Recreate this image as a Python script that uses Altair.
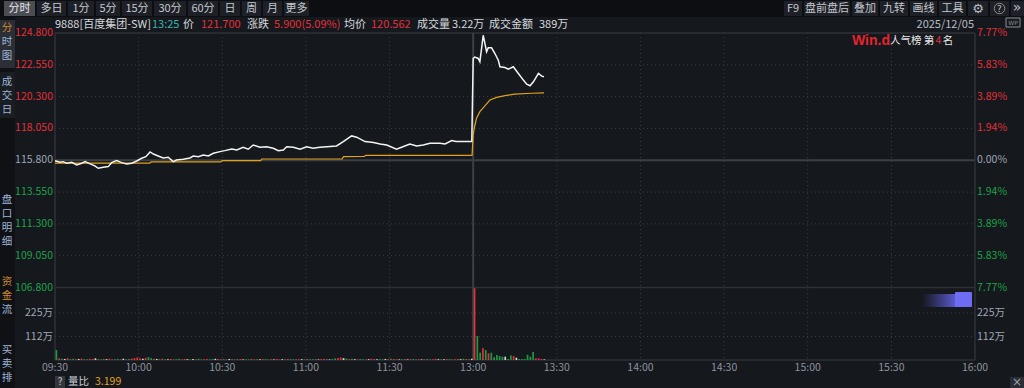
import altair as alt
import pandas as pd
import numpy as np

# ---------------- data ----------------
price_ticks = [124.8, 122.55, 120.3, 118.05, 115.8, 113.55, 111.3, 109.05, 106.8]
pct_labels = ["7.77%", "5.83%", "3.89%", "1.94%", "0.00%", "1.94%", "3.89%", "5.83%", "7.77%"]
prev_close = 115.8
vol_ticks = [225, 112.5]
vol_tick_labels = ["225万", "112万"]
time_labels = ["09:30", "10:00", "10:30", "11:00", "11:30", "13:00", "13:30",
               "14:00", "14:30", "15:00", "15:30", "16:00"]
time_pos = [0, 30, 60, 90, 120, 150, 180, 210, 240, 270, 300, 330]

price_min = [0, 1.8, 2.9, 4.2, 6, 7.8, 9.6, 10.8, 12.6, 14.3,
             15.5, 17.3, 19.1, 20.3, 22.1, 23.9, 25.7, 27.5, 29.3, 31.1,
             32.6, 34.1, 35.3, 37, 38.8, 40.6, 42.4, 43.6, 46, 48.4,
             49.6, 51.4, 53.2, 55, 56.8, 59.2, 60.9, 63.4, 65.2, 67.5,
             69.3, 71.1, 73.5, 75.9, 78.3, 80.1, 81.9, 83.1, 85.5, 87.9,
             90.3, 92.6, 95, 97.5, 101, 103.4, 106.4, 108.2, 111.2, 114.2,
             116.6, 119, 122.5, 124.3, 127.3, 129.7, 132.1, 134.5, 138.1, 139.9,
             142.3, 143.8, 149.5, 150, 150.6, 151.8, 152.4, 153, 153.6, 154.2,
             154.8, 155.4, 156.6, 157.8, 159, 159.6, 161.4, 162.6, 164.4, 166.2,
             168, 169.2, 170.4, 171.6, 173.4, 174.6, 175.4]
price_val = [115.77, 115.66, 115.70, 115.59, 115.66, 115.47, 115.59, 115.70, 115.54, 115.40,
             115.23, 115.30, 115.35, 115.63, 115.77, 115.63, 115.54, 115.59, 115.75, 115.94,
             116.05, 116.39, 116.24, 116.10, 115.96, 116.01, 115.70, 115.82, 115.87, 115.96,
             116.10, 116.05, 116.17, 116.10, 116.29, 116.41, 116.48, 116.60, 116.53, 116.72,
             116.58, 116.88, 116.72, 116.76, 116.65, 116.48, 116.53, 116.76, 116.72, 116.58,
             116.76, 116.65, 116.72, 116.76, 116.81, 117.12, 117.52, 117.43, 117.12, 117.05,
             116.95, 116.88, 116.58, 116.72, 116.95, 116.81, 116.88, 117.0, 117.0, 116.95,
             117.19, 117.12, 117.12, 123.0, 123.1, 123.0, 122.77, 123.7, 124.64, 124.06,
             123.47, 123.75, 123.75, 123.35, 122.88, 122.41, 122.36, 122.24, 122.41, 121.94,
             121.47, 121.18, 121.07, 121.35, 121.94, 121.75, 121.70]

avg_min = [0, 34, 34.5, 59.5, 60, 73.8, 74.2, 103, 103.5, 111, 111.5, 149.6,
           150, 150.5, 151.2, 152.4, 154.2, 156, 158.4, 161.4, 164.9, 170.9, 175.4]
avg_val = [115.60, 115.60, 115.68, 115.68, 115.77, 115.77, 115.89, 115.90, 116.06, 116.08, 116.15, 116.15,
           117.6, 118.17, 118.77, 119.24, 119.64, 120.06, 120.25, 120.37, 120.47, 120.54, 120.56]

vol_am = [48, 8, 6, 5, 9, 4, 6, 3, 5, 7,
          4, 3, 6, 5, 8, 4, 3, 5, 4, 6,
          3, 4, 5, 3, 6, 4, 5, 7, 9, 12,
          8, 6, 10, 14, 9, 6, 5, 4, 6, 3,
          4, 5, 3, 4, 6, 3, 5, 4, 3, 5,
          4, 6, 3, 4, 5, 3, 4, 6, 5, 3,
          4, 3, 5, 4, 3, 4, 5, 3, 4, 3,
          5, 3, 4, 3, 5, 4, 3, 4, 3, 5,
          3, 4, 3, 5, 4, 3, 4, 3, 4, 3,
          5, 4, 3, 4, 3, 5, 6, 4, 3, 4,
          8, 10, 12, 9, 7, 5, 6, 4, 3, 5,
          4, 3, 4, 6, 5, 3, 4, 3, 5, 4,
          6, 5, 4, 3, 4, 5, 3, 4, 5, 3,
          4, 3, 4, 5, 3, 4, 6, 4, 3, 4,
          5, 4, 3, 4, 5, 4, 6, 5, 4, 6]
dir_am = ("dudfuddufudduufdudfuuddufdduuu"
          "ufuddufdudfuudduufdfudduuddfuu"
          "dufdudufdduudfuddufuufdudduufd"
          "uddufuudfdduufdudfuddufuufddfu"
          "duufdufuddufudduufdfudduufdudf")
vol_pm = [344, 115, 35, 56, 48, 32, 35, 13, 24, 19, 16, 16, 5,
          22, 19, 11, 5, 5, 5, 25, 16, 38, 8, 8, 5, 3]
dir_pm = "uddududddddfddufdddddduuuf"

toolbar_left = ["分时", "多日", "1分", "5分", "15分", "30分", "60分", "日", "周", "月", "更多"]
toolbar_right = ["F9", "盘前盘后", "叠加", "九转", "画线", "工具"]

# ---------------- style ----------------
F = "Noto Sans CJK SC"
BG = "#15181d"
RED = "#e3303a"
GREEN = "#1ea248"
GRAYLBL = "#9ea6b4"
GRID = "#3a3e46"
FRAME = "#2e3138"

XS = alt.Scale(domain=[0, 330], range=[55, 975])
PS = alt.Scale(domain=[106.8, 124.8], range=[287.5, 33])
VS = alt.Scale(domain=[0, 350], range=[360, 287])

one = pd.DataFrame({"k": [0]})


def txt(s, x, y, color="#cdd1d8", size=11, align="left", weight="normal", font=F):
    return alt.Chart(pd.DataFrame({"t": [s]})).mark_text(
        align=align, baseline="middle", fontSize=size, font=font, color=color,
        fontWeight=weight
    ).encode(x=alt.value(x), y=alt.value(y), text="t:N")


def box(x1, x2, y1, y2, fill, stroke=None):
    kw = {"fill": fill}
    if stroke:
        kw["stroke"] = stroke
    return alt.Chart(one).mark_rect(**kw).encode(
        x=alt.value(x1), x2=alt.value(x2), y=alt.value(y1), y2=alt.value(y2))


layers = []

# toolbar
layers.append(box(0, 1024, 0, 17, "#0c0e12"))
left_bounds = [(4, 35), (37, 66), (68, 94), (96, 120), (122, 152), (154, 186),
               (188, 218), (220, 240), (242, 261), (263, 282), (284, 309)]
for i, (lab, (a, b)) in enumerate(zip(toolbar_left, left_bounds)):
    layers.append(box(a, b, 1, 16, "#4a4d54" if i == 0 else "#1d2026"))
    layers.append(txt(lab, (a + b) / 2, 8.5, "#e6e6e6" if i == 0 else "#c4c8cf", 11, "center"))
right_bounds = [(784, 802), (804, 850), (852, 878), (880, 908), (910, 937), (939, 966)]
for lab, (a, b) in zip(toolbar_right, right_bounds):
    layers.append(box(a, b, 1, 16, "#1d2026"))
    layers.append(txt(lab, (a + b) / 2, 8.5, "#c4c8cf", 11, "center"))
for a, b in [(968, 988), (990, 1009), (1011, 1024)]:
    layers.append(box(a, b, 1, 16, "#1d2026"))
layers.append(txt("⚙", 978, 8.5, "#b8bcc4", 13, "center", font="DejaVu Sans"))
layers.append(alt.Chart(one).mark_point(shape="circle", size=110, stroke="#b8bcc4", strokeWidth=1, filled=False)
              .encode(x=alt.value(999.5), y=alt.value(8.5)))
layers.append(txt("?", 999.5, 9, "#b8bcc4", 9, "center", font="DejaVu Sans"))
layers.append(txt("»", 1017, 7.5, "#b8bcc4", 14, "center", font="DejaVu Sans"))

# left sidebar
layers.append(box(0, 15, 17, 388, "#0f1115"))
layers.append(box(0, 15, 20, 68, "#2b2e35"))
layers.append(box(0, 15, 72, 118, "#1a1d22"))
for ch, yy, col in [("分", 28, "#d18b2c"), ("时", 42, "#9fb4d6"), ("图", 56, "#9fb4d6"),
                    ("成", 82, "#9fb4d6"), ("交", 96, "#9fb4d6"), ("日", 110, "#9fb4d6"),
                    ("盘", 200, "#9fb4d6"), ("口", 214, "#9fb4d6"), ("明", 228, "#9fb4d6"), ("细", 242, "#9fb4d6"),
                    ("资", 282, "#d18b2c"), ("金", 296, "#d18b2c"), ("流", 310, "#9fb4d6"),
                    ("买", 350, "#9fb4d6"), ("卖", 364, "#9fb4d6"), ("排", 378, "#9fb4d6")]:
    layers.append(txt(ch, 7, yy, col, 10.5, "center"))

# info line
info = [("9888[百度集团-SW]", 55, "#d6d9de"), ("13:25", 152, "#36b4b0"), ("价", 183, "#d6d9de"),
        ("121.700", 201, RED), ("涨跌", 247, "#d6d9de"), ("5.900(5.09%)", 274, RED),
        ("均价", 344, "#d6d9de"), ("120.562", 371, RED), ("成交量", 417, "#d6d9de"),
        ("3.22万", 452, "#d6d9de"), ("成交金额", 489, "#d6d9de"), ("389万", 539, "#d6d9de")]
for s, x, c in info:
    layers.append(txt(s, x, 24.5, c, 11))
layers.append(txt("2025/12/05", 974, 24.5, "#b8bcc4", 11, "right"))
layers.append(box(1006, 1020, 18, 27, "#15181d", "#8a8f98"))
layers.append(txt("WP", 1013, 22.5, "#8a8f98", 6, "center", font="DejaVu Sans"))

# frame and grid
dotted_prices = [p for p in price_ticks if p not in (124.8, 115.8, 106.8)]
layers.append(alt.Chart(pd.DataFrame({"p": dotted_prices})).mark_rule(
    color=GRID, strokeDash=[1, 3], strokeWidth=1).encode(
    y=alt.Y("p:Q", scale=PS, axis=None), x=alt.value(55), x2=alt.value(975)))
layers.append(alt.Chart(pd.DataFrame({"v": vol_ticks})).mark_rule(
    color=GRID, strokeDash=[1, 3], strokeWidth=1).encode(
    y=alt.Y("v:Q", scale=VS, axis=None), x=alt.value(55), x2=alt.value(975)))
dotted_times = [t for t in time_pos if t not in (0, 150, 330)]
layers.append(alt.Chart(pd.DataFrame({"t": dotted_times})).mark_rule(
    color=GRID, strokeDash=[1, 3], strokeWidth=1).encode(
    x=alt.X("t:Q", scale=XS, axis=None), y=alt.value(33), y2=alt.value(360)))
layers.append(alt.Chart(pd.DataFrame({"p": [124.8, 106.8]})).mark_rule(color=FRAME, strokeWidth=1.5).encode(
    y=alt.Y("p:Q", scale=PS, axis=None), x=alt.value(55), x2=alt.value(975)))
layers.append(alt.Chart(pd.DataFrame({"p": [prev_close]})).mark_rule(color="#3c3f46", strokeWidth=2).encode(
    y=alt.Y("p:Q", scale=PS, axis=None), x=alt.value(55), x2=alt.value(975)))
layers.append(alt.Chart(pd.DataFrame({"v": [0]})).mark_rule(color=FRAME, strokeWidth=1.5).encode(
    y=alt.Y("v:Q", scale=VS, axis=None), x=alt.value(55), x2=alt.value(975)))
layers.append(alt.Chart(pd.DataFrame({"t": [0, 330]})).mark_rule(color=FRAME, strokeWidth=1.5).encode(
    x=alt.X("t:Q", scale=XS, axis=None), y=alt.value(33), y2=alt.value(360)))
layers.append(alt.Chart(pd.DataFrame({"t": [150]})).mark_rule(color="#3c3f46", strokeWidth=2).encode(
    x=alt.X("t:Q", scale=XS, axis=None), y=alt.value(33), y2=alt.value(360)))

# axis labels
color_expr = (f"datum.p > {prev_close} ? '{RED}' : (datum.p < {prev_close} ? '{GREEN}' : '{GRAYLBL}')")
pdf = pd.DataFrame({"p": price_ticks, "pct": pct_labels})
layers.append(alt.Chart(pdf).transform_calculate(c=color_expr).mark_text(
    align="right", baseline="middle", font=F, fontSize=10.5).encode(
    x=alt.value(53), y=alt.Y("p:Q", scale=PS, axis=None),
    text=alt.Text("p:Q", format=".3f"), color=alt.Color("c:N", scale=None)))
layers.append(alt.Chart(pdf).transform_calculate(c=color_expr).mark_text(
    align="left", baseline="middle", font=F, fontSize=10.5).encode(
    x=alt.value(977), y=alt.Y("p:Q", scale=PS, axis=None),
    text="pct:N", color=alt.Color("c:N", scale=None)))
vdf = pd.DataFrame({"v": vol_ticks, "lab": vol_tick_labels})
layers.append(alt.Chart(vdf).mark_text(align="right", baseline="middle", font=F, fontSize=10.5, color=GRAYLBL)
              .encode(x=alt.value(53), y=alt.Y("v:Q", scale=VS, axis=None), text="lab:N"))
layers.append(alt.Chart(vdf).mark_text(align="left", baseline="middle", font=F, fontSize=10.5, color=GRAYLBL)
              .encode(x=alt.value(977), y=alt.Y("v:Q", scale=VS, axis=None), text="lab:N"))
tdf = pd.DataFrame({"t": time_pos, "lab": time_labels})
layers.append(alt.Chart(tdf).mark_text(align="center", baseline="middle", font=F, fontSize=10.5, color="#8d939e")
              .encode(x=alt.X("t:Q", scale=XS, axis=None), y=alt.value(367.5), text="lab:N"))

# volume bars
vol = vol_am + vol_pm
dirs = list(dir_am) + list(dir_pm)
vdf2 = pd.DataFrame({"m": np.arange(len(vol)) + 0.5, "v": vol, "d": dirs[:len(vol)], "z": 0})
layers.append(alt.Chart(vdf2).mark_rule(strokeWidth=1.7).encode(
    x=alt.X("m:Q", scale=XS, axis=None),
    y=alt.Y("v:Q", scale=VS, axis=None), y2="z:Q",
    color=alt.Color("d:N", scale=alt.Scale(domain=["u", "d", "f"], range=[RED, "#1d9a41", "#d6d6d6"]), legend=None)))

# avg line & price line
layers.append(alt.Chart(pd.DataFrame({"m": avg_min, "p": avg_val})).mark_line(
    color="#e0a21c", strokeWidth=1.2).encode(
    x=alt.X("m:Q", scale=XS, axis=None), y=alt.Y("p:Q", scale=PS, axis=None)))
layers.append(alt.Chart(pd.DataFrame({"m": price_min, "p": price_val})).mark_line(
    color="#f4f4f4", strokeWidth=1.5).encode(
    x=alt.X("m:Q", scale=XS, axis=None), y=alt.Y("p:Q", scale=PS, axis=None)))

# Wind popularity badge
layers.append(txt("Win.d", 871, 41, "#e8242c", 14, "center", "bold", font="Liberation Sans"))
layers.append(txt("人气榜", 890, 40.5, "#e8e8e8", 10.5))
layers.append(txt("第", 929, 40.5, "#e8e8e8", 10.5, "center"))
layers.append(txt("4", 938.5, 40.5, RED, 10.5, "center"))
layers.append(txt("名", 948, 40.5, "#e8e8e8", 10.5, "center"))

# purple widget
grad = alt.Gradient(gradient="linear",
                    stops=[alt.GradientStop(color="rgba(90,90,210,0)", offset=0),
                           alt.GradientStop(color="rgba(100,100,230,0.9)", offset=1)],
                    x1=0, x2=1, y1=0, y2=0)
layers.append(alt.Chart(one).mark_rect(color=grad).encode(
    x=alt.value(922), x2=alt.value(956), y=alt.value(294), y2=alt.value(307)))
layers.append(alt.Chart(one).mark_rect(fill="#6d6cf2", cornerRadius=1).encode(
    x=alt.value(955), x2=alt.value(972), y=alt.value(292), y2=alt.value(307)))

# bottom strip
layers.append(box(55, 65, 376, 388, "#33363d"))
layers.append(txt("?", 60, 382, "#c8ccd2", 10, "center"))
layers.append(txt("量比", 68, 381.5, "#c8ccd2", 10.5))
layers.append(txt("3.199", 95, 381.5, "#e3a521", 10.5))
layers.append(box(1010, 1024, 377, 388, "#2a2d33"))
layers.append(txt("×", 1017, 382, "#9aa0a8", 12, "center", font="DejaVu Sans"))

chart = alt.layer(*layers).resolve_scale(x="independent", y="independent", color="independent").properties(
    width=1024, height=388, background=BG, padding=0,
    autosize=alt.AutoSizeParams(type="none")
).configure_view(stroke=None)

chart.save("out.html", embed_options={"renderer": "svg", "actions": False})
